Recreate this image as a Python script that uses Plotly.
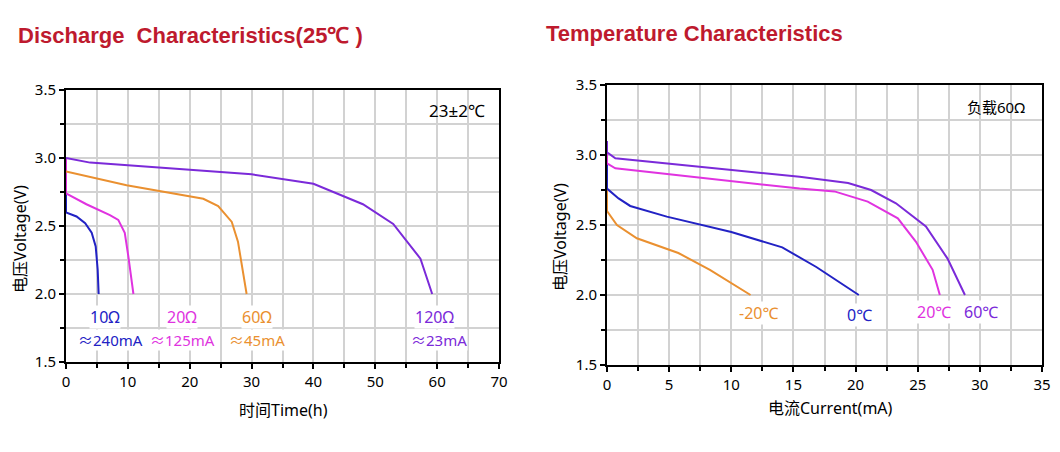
import plotly.graph_objects as go

# ---- Left chart: discharge characteristics (time h vs voltage V)
t_10 = [0, 0, 1.7, 3.1, 4.15, 4.8, 5.12, 5.28]
v_10 = [2.74, 2.6, 2.57, 2.52, 2.45, 2.35, 2.18, 2.0]
t_20 = [0, 0, 3.3, 7.1, 8.45, 9.5, 10.1, 10.9]
v_20 = [3.0, 2.74, 2.66, 2.58, 2.545, 2.45, 2.27, 2.0]
t_60 = [0, 9.8, 22.2, 24.6, 26.8, 27.8, 29.2]
v_60 = [2.9, 2.8, 2.7, 2.647, 2.53, 2.385, 2.0]
t_120 = [0, 3.9, 30, 40, 48, 52.9, 57.3, 59.2]
v_120 = [3.0, 2.966, 2.88, 2.81, 2.66, 2.515, 2.26, 2.0]

# ---- Right chart: temperature characteristics (current mA vs voltage V)
c_m20 = [0, 0, 0.8, 2.4, 5.74, 8.28, 11.55]
v_m20 = [2.76, 2.6, 2.5, 2.405, 2.3, 2.18, 2.0]
c_0 = [0, 0, 0.93, 1.87, 4.81, 10.0, 14.1, 16.84, 20.26]
v_0 = [2.94, 2.76, 2.69, 2.636, 2.56, 2.45, 2.34, 2.2, 2.0]
c_20 = [0, 0, 0.67, 15.5, 18.3, 20.98, 23.4, 24.86, 26.2, 26.78]
v_20t = [3.02, 2.94, 2.905, 2.76, 2.74, 2.667, 2.548, 2.38, 2.18, 2.0]
c_60 = [0, 0, 0.67, 15.5, 19.4, 21.25, 23.25, 25.66, 27.4, 28.8]
v_60t = [3.1, 3.02, 2.976, 2.845, 2.8, 2.75, 2.655, 2.49, 2.26, 2.0]

BLUE = "#2222c4"
MAGENTA = "#e033e0"
ORANGE = "#ea9030"
PURPLE = "#7b2ad9"
RED = "#be1a2e"

W, H = 1060, 452
OFF = 8  # page body margin offset


def px(x):
    return (x - OFF) / W


def py(y):
    return 1 - (y - OFF) / H


fig = go.Figure()


def add(x, y, color, xa, ya):
    fig.add_trace(go.Scatter(x=x, y=y, mode="lines", line=dict(color=color, width=2),
                             xaxis=xa, yaxis=ya, showlegend=False, hoverinfo="skip"))


add(t_10, v_10, BLUE, "x", "y")
add(t_20, v_20, MAGENTA, "x", "y")
add(t_60, v_60, ORANGE, "x", "y")
add(t_120, v_120, PURPLE, "x", "y")
add(c_m20, v_m20, ORANGE, "x2", "y2")
add(c_0, v_0, BLUE, "x2", "y2")
add(c_20, v_20t, MAGENTA, "x2", "y2")
add(c_60, v_60t, PURPLE, "x2", "y2")

FONT = "Noto Sans, Noto Sans CJK SC, sans-serif"
GRID = "#d2d2d2"


def xaxis(domain, rng, dtick, minor, anchor):
    return dict(domain=domain, range=rng, dtick=dtick, tick0=0, anchor=anchor,
                automargin=False,
                showline=True, linecolor="black", linewidth=2, mirror=True,
                ticks="outside", ticklen=5, tickwidth=1.5, tickcolor="black",
                showgrid=True, gridcolor=GRID, gridwidth=1.5, zeroline=False,
                minor=dict(dtick=minor, ticks="outside", ticklen=4, tickcolor="black",
                           showgrid=True, gridcolor=GRID, gridwidth=1.5),
                tickfont=dict(family=FONT, size=15, color="black"))


def yaxis(domain, anchor):
    return dict(domain=domain, range=[1.5, 3.5], dtick=0.5, tick0=1.5, anchor=anchor,
                tickformat=".1f", automargin=False,
                showline=True, linecolor="black", linewidth=2, mirror=True,
                ticks="outside", ticklen=5, tickwidth=1.5, tickcolor="black",
                showgrid=True, gridcolor=GRID, gridwidth=1.5, zeroline=False,
                minor=dict(dtick=0.25, ticks="outside", ticklen=4, tickcolor="black",
                           showgrid=True, gridcolor=GRID, gridwidth=1.5),
                tickfont=dict(family=FONT, size=15, color="black"))


fig.update_layout(
    width=W, height=H, autosize=False,
    margin=dict(l=0, r=0, t=0, b=0, pad=0, autoexpand=False),
    paper_bgcolor="white", plot_bgcolor="white",
    xaxis=xaxis([px(66), px(499)], [0, 70], 10, 5, "y"),
    yaxis=yaxis([py(362), py(90)], "x"),
    xaxis2=xaxis([px(607), px(1042)], [0, 35], 5, 2.5, "y2"),
    yaxis2=yaxis([py(365), py(85)], "x2"),
)

ann = []


def txt(x, y, s, color, xref, yref, size=16, xanchor="center", bg=None, family=FONT, bold=False, angle=0):
    d = dict(x=x, y=y, xref=xref, yref=yref, text=("<b>%s</b>" % s) if bold else s,
             showarrow=False, xanchor=xanchor, yanchor="middle", textangle=angle,
             font=dict(family=family, size=size, color=color))
    if bg:
        d["bgcolor"] = bg
        d["borderpad"] = 0
    ann.append(d)


# titles
txt(px(16), py(35), "Discharge  Characteristics(25℃ )", RED, "paper", "paper", size=22,
    xanchor="left", family="Liberation Sans, Arial, sans-serif", bold=True)
txt(px(544), py(33), "Temperature Characteristics", RED, "paper", "paper", size=22,
    xanchor="left", family="Liberation Sans, Arial, sans-serif", bold=True)

# axis titles
txt(px(283), py(410), "时间Time(h)", "black", "paper", "paper", size=16)
txt(px(830), py(408), "电流Current(mA)", "black", "paper", "paper", size=16)
txt(px(20), py(239), "电压Voltage(V)", "black", "paper", "paper", size=16, angle=-90)
txt(px(560), py(237), "电压Voltage(V)", "black", "paper", "paper", size=16, angle=-90)

# left chart labels
txt(6.3, 1.83, "10Ω", BLUE, "x", "y", bg="white")
txt(7.2, 1.66, "≈240mA", BLUE, "x", "y", size=15, bg="white")
txt(18.8, 1.83, "20Ω", MAGENTA, "x", "y", bg="white")
txt(18.9, 1.66, "≈125mA", MAGENTA, "x", "y", size=15, bg="white")
txt(30.8, 1.83, "60Ω", ORANGE, "x", "y", bg="white")
txt(30.8, 1.66, "≈45mA", ORANGE, "x", "y", size=15, bg="white")
txt(59.5, 1.83, "120Ω", PURPLE, "x", "y", bg="white")
txt(60.3, 1.66, "≈23mA", PURPLE, "x", "y", size=15, bg="white")
txt(68, 3.35, "23±2℃", "black", "x", "y", size=17, xanchor="right")

# right chart labels
txt(12.2, 1.87, "-20℃", ORANGE, "x2", "y2", bg="white")
txt(20.3, 1.86, "0℃", BLUE, "x2", "y2", bg="white")
txt(26.3, 1.88, "20℃", MAGENTA, "x2", "y2", bg="white")
txt(30.1, 1.88, "60℃", PURPLE, "x2", "y2", bg="white")
txt(33.8, 3.345, "负载60Ω", "black", "x2", "y2", size=15, xanchor="right")

fig.update_layout(annotations=ann)
fig.write_html("out.html")
